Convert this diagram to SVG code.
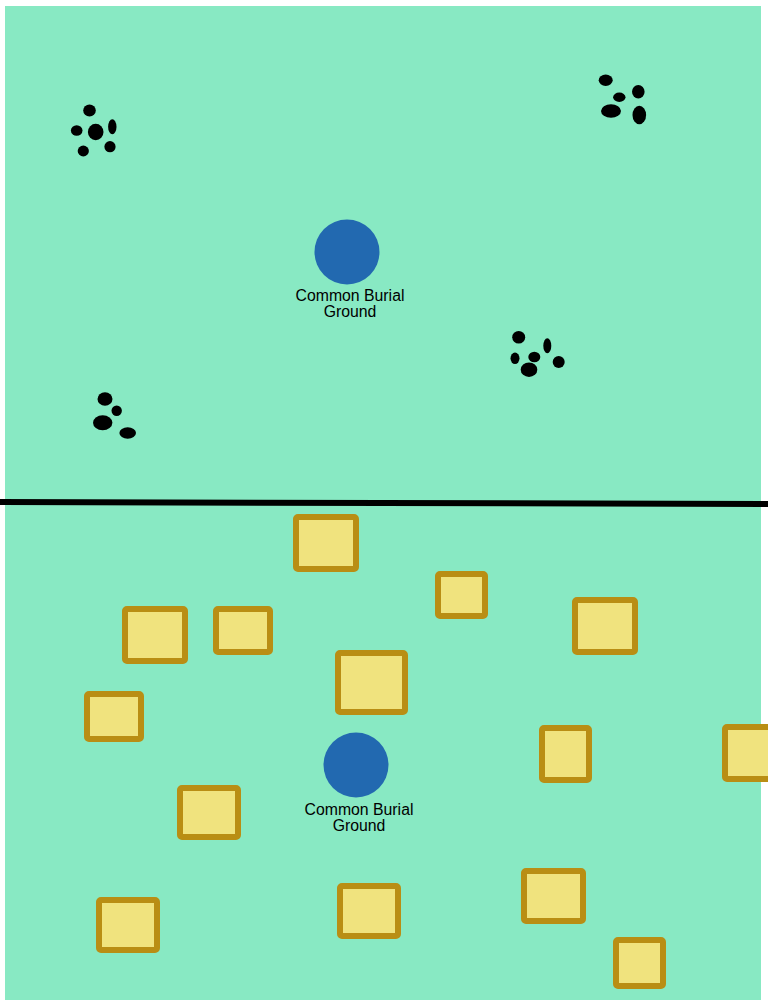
<svg xmlns="http://www.w3.org/2000/svg" width="768" height="1008" viewBox="0 0 768 1008">
<style>
.bg{fill:#88E9C3}
.pit{fill:#000}
.bur{fill:#2269B0}
.hut{fill:#F0E37E;stroke:#B98E14;stroke-width:6}
.lbl{font-family:"Liberation Sans",Arial,sans-serif;font-size:15.8px;fill:#000;text-anchor:middle}
</style>
<rect class="bg" x="5" y="6" width="756" height="994"/>
<g id="pits-1">
<ellipse class="pit" cx="89.5" cy="110.5" rx="6.3" ry="6"/>
<ellipse class="pit" cx="76.7" cy="130.5" rx="5.8" ry="5.3"/>
<ellipse class="pit" cx="95.7" cy="132" rx="7.8" ry="8.2"/>
<ellipse class="pit" cx="112.3" cy="126.7" rx="4.2" ry="7.5"/>
<ellipse class="pit" cx="83.3" cy="151" rx="5.6" ry="5.4"/>
<ellipse class="pit" cx="110" cy="146.7" rx="5.6" ry="5.6"/>
</g>
<g id="pits-2">
<ellipse class="pit" cx="605.7" cy="80.3" rx="7" ry="5.7"/>
<ellipse class="pit" cx="619.3" cy="97.3" rx="6.2" ry="4.7"/>
<ellipse class="pit" cx="638.3" cy="91.7" rx="6.3" ry="6.7"/>
<ellipse class="pit" cx="611" cy="111" rx="10" ry="6.8"/>
<ellipse class="pit" cx="639.3" cy="115" rx="6.8" ry="9.3"/>
</g>
<g id="pits-3">
<ellipse class="pit" cx="518.7" cy="337.3" rx="6.5" ry="6.3"/>
<ellipse class="pit" cx="547.3" cy="345.7" rx="4" ry="7.5"/>
<ellipse class="pit" cx="515" cy="358.3" rx="4.5" ry="5.8"/>
<ellipse class="pit" cx="534.3" cy="357" rx="6" ry="5.3"/>
<ellipse class="pit" cx="558.7" cy="362" rx="6" ry="6"/>
<ellipse class="pit" cx="529" cy="369.7" rx="8.3" ry="7.2"/>
</g>
<g id="pits-4">
<ellipse class="pit" cx="105" cy="399" rx="7.5" ry="6.7"/>
<ellipse class="pit" cx="116.7" cy="410.7" rx="5.2" ry="5.2"/>
<ellipse class="pit" cx="102.7" cy="422.7" rx="9.7" ry="7.5"/>
<ellipse class="pit" cx="127.7" cy="433" rx="8.3" ry="5.7"/>
</g>
<g id="burial-top">
<circle class="bur" cx="347" cy="252" r="32.5"/>
<text class="lbl" x="350" y="301">Common Burial</text>
<text class="lbl" x="350" y="317">Ground</text>
</g>
<g id="connectors">
<line x1="0" y1="502" x2="768" y2="504" stroke="#000" stroke-width="6"/>
</g>
<g id="hut-1"><rect class="hut" x="296" y="517" width="60" height="52" rx="2"/></g>
<g id="hut-2"><rect class="hut" x="438" y="574" width="47" height="42" rx="2"/></g>
<g id="hut-3"><rect class="hut" x="125" y="609" width="60" height="52" rx="2"/></g>
<g id="hut-4"><rect class="hut" x="216" y="609" width="54" height="43" rx="2"/></g>
<g id="hut-5"><rect class="hut" x="338" y="653" width="67" height="59" rx="2"/></g>
<g id="hut-6"><rect class="hut" x="575" y="600" width="60" height="52" rx="2"/></g>
<g id="hut-7"><rect class="hut" x="87" y="694" width="54" height="45" rx="2"/></g>
<g id="hut-8"><rect class="hut" x="542" y="728" width="47" height="52" rx="2"/></g>
<g id="hut-9"><rect class="hut" x="725" y="727" width="56" height="52" rx="2"/></g>
<g id="hut-10"><rect class="hut" x="180" y="788" width="58" height="49" rx="2"/></g>
<g id="hut-11"><rect class="hut" x="99" y="900" width="58" height="50" rx="2"/></g>
<g id="hut-12"><rect class="hut" x="340" y="886" width="58" height="50" rx="2"/></g>
<g id="hut-13"><rect class="hut" x="524" y="871" width="59" height="50" rx="2"/></g>
<g id="hut-14"><rect class="hut" x="616" y="940" width="47" height="46" rx="2"/></g>
<g id="burial-bottom">
<circle class="bur" cx="356" cy="765" r="32.5"/>
<text class="lbl" x="359" y="815">Common Burial</text>
<text class="lbl" x="359" y="831">Ground</text>
</g>
</svg>
